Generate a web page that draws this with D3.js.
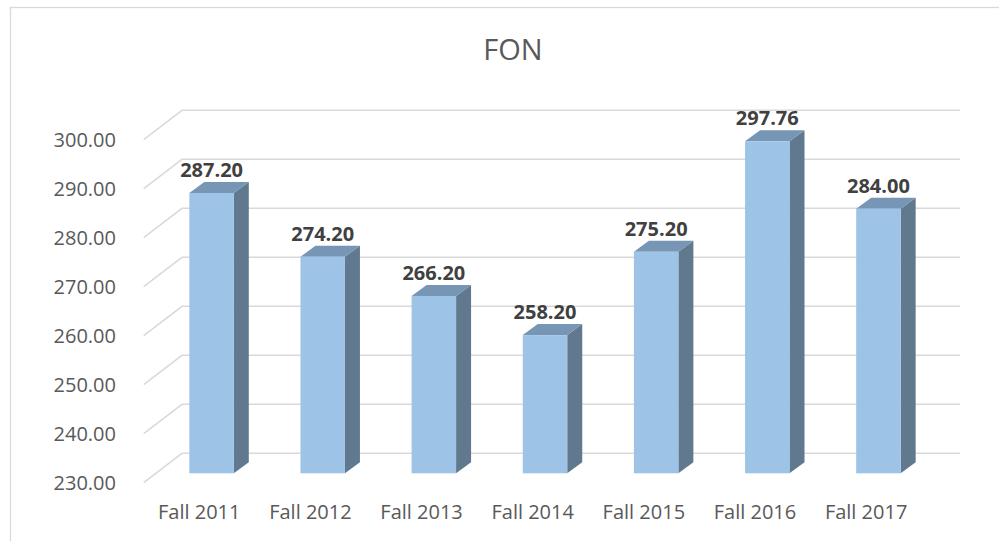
<!DOCTYPE html>
<html>
<head>
<meta charset="utf-8">
<script src="https://cdn.jsdelivr.net/npm/d3@7"></script>
<style>
  body { margin: 0; background: #fff; }
  svg { display: block; font-family: "Open Sans", "Noto Sans", sans-serif; }
</style>
</head>
<body>
<svg id="chart" width="999" height="541"></svg>
<script>
// chart data
var categories = ["Fall 2011", "Fall 2012", "Fall 2013", "Fall 2014", "Fall 2015", "Fall 2016", "Fall 2017"];
var values = [287.20, 274.20, 266.20, 258.20, 275.20, 297.76, 284.00];
var yTicks = [230, 240, 250, 260, 270, 280, 290, 300];
var chartTitle = "FON";

var svg = d3.select("#chart");

// 3d offsets, relative to the plane of the bar fronts
var wallDx = 26, wallDy = -20;     // back wall
var floorDx = -12.3, floorDy = 9.3; // front edge of the floor
var barDx = 15, barDy = -11;       // depth of one bar

var x = d3.scaleBand()
    .domain(categories)
    .range([156, 934])
    .paddingInner(0.6)
    .paddingOuter(0.3);

var y = d3.scaleLinear()
    .domain([230, 300])
    .range([473.3, 130.3]);

// chart area border
svg.append("rect")
    .attr("x", 10.5).attr("y", 7.5)
    .attr("width", 1000).attr("height", 600)
    .style("fill", "none")
    .style("stroke", "#d9d9d9")
    .style("stroke-width", 1.3);

// title
svg.append("text")
    .attr("x", 513).attr("y", 60)
    .attr("text-anchor", "middle")
    .style("font-size", "29px")
    .style("fill", "#595959")
    .text(chartTitle);

// gridlines: short diagonal on the floor side, then across the back wall
var x0 = x.range()[0], x1 = x.range()[1];
var grid = svg.append("g").attr("class", "grid");
yTicks.forEach(function (t) {
    var yy = y(t);
    grid.append("polyline")
        .attr("points", [
            [x0 + floorDx, yy + floorDy],
            [x0 + wallDx, yy + wallDy],
            [x1 + wallDx, yy + wallDy]
        ].join(" "))
        .style("fill", "none")
        .style("stroke", "#d9d9d9")
        .style("stroke-width", 1.5);
});

// y axis labels
svg.append("g").selectAll("text").data(yTicks).enter().append("text")
    .attr("x", 116)
    .attr("y", function (d) { return y(d) + floorDy; })
    .attr("dy", "0.35em")
    .attr("text-anchor", "end")
    .style("font-size", "20px")
    .style("fill", "#595959")
    .text(function (d) { return d3.format(".2f")(d); });

// category labels
svg.append("g").selectAll("text").data(categories).enter().append("text")
    .attr("x", function (d) { return x(d) + x.bandwidth() / 2 + floorDx; })
    .attr("y", 519)
    .attr("text-anchor", "middle")
    .style("font-size", "20px")
    .style("fill", "#595959")
    .text(function (d) { return d; });

// bars
var bw = x.bandwidth();
var bars = svg.append("g").selectAll("g").data(values).enter().append("g");

// right side
bars.append("polygon")
    .attr("points", function (d, i) {
        var l = x(categories[i]) + bw, t = y(d), b = y(230);
        return [[l, t], [l + barDx, t + barDy], [l + barDx, b + barDy], [l, b]].join(" ");
    })
    .style("fill", "#61798f");

// top
bars.append("polygon")
    .attr("points", function (d, i) {
        var l = x(categories[i]), t = y(d);
        return [[l, t], [l + barDx, t + barDy], [l + bw + barDx, t + barDy], [l + bw, t]].join(" ");
    })
    .style("fill", "#7795b5");

// front
bars.append("rect")
    .attr("x", function (d, i) { return x(categories[i]); })
    .attr("y", function (d) { return y(d); })
    .attr("width", bw)
    .attr("height", function (d) { return y(230) - y(d); })
    .style("fill", "#9dc3e6");

// value labels
bars.append("text")
    .attr("x", function (d, i) { return x(categories[i]) + bw / 2; })
    .attr("y", function (d) { return y(d) + barDy - 5; })
    .attr("text-anchor", "middle")
    .style("font-size", "20px")
    .style("font-weight", "bold")
    .style("fill", "#404040")
    .text(function (d) { return d3.format(".2f")(d); });
</script>
</body>
</html>
